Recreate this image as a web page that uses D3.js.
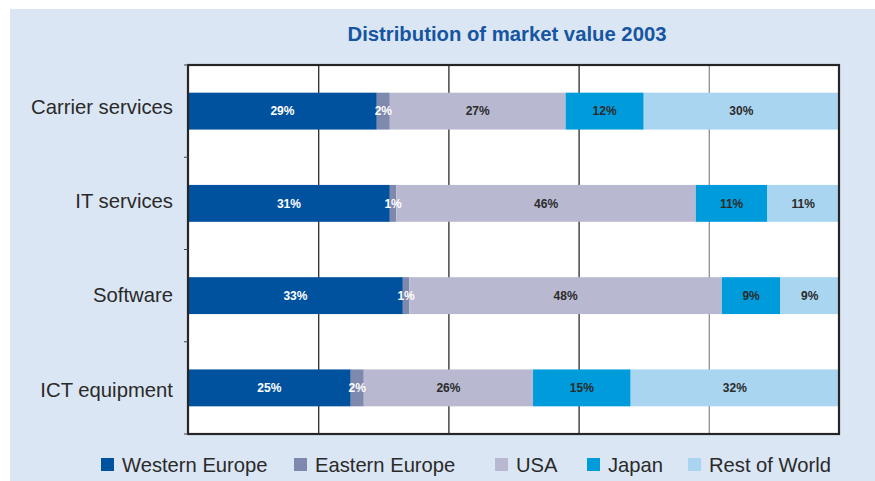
<!DOCTYPE html>
<html>
<head>
<meta charset="utf-8">
<script src="https://cdn.jsdelivr.net/npm/d3@7"></script>
<style>
  html, body { margin: 0; padding: 0; background: #ffffff; }
  svg { display: block; font-family: "Liberation Sans", Arial, Helvetica, sans-serif; }
</style>
</head>
<body>
<svg id="chart" width="875" height="481"></svg>
<script>
// Market value shares (%) by segment and region, 2003
const categories = ["Carrier services", "IT services", "Software", "ICT equipment"];
const regions = ["Western Europe", "Eastern Europe", "USA", "Japan", "Rest of World"];
const westernEurope = [29, 31, 33, 25];
const easternEurope = [2, 1, 1, 2];
const usa = [27, 46, 48, 26];
const japan = [12, 11, 9, 15];
const restOfWorld = [30, 11, 9, 32];
const xTicks = [0, 20, 40, 60, 80, 100];
const title = "Distribution of market value 2003";

const colors = ["#00529f", "#7f89ad", "#b8b9d0", "#009bdb", "#aad5f0"];
const labelColors = ["#ffffff", "#ffffff", "#2b2b2b", "#2b2b2b", "#2b2b2b"];

const table = categories.map((c, i) => ({
  category: c,
  "Western Europe": westernEurope[i],
  "Eastern Europe": easternEurope[i],
  "USA": usa[i],
  "Japan": japan[i],
  "Rest of World": restOfWorld[i]
}));

const svg = d3.select("#chart");
const W = 875, H = 481;
const plot = { left: 188, right: 839, top: 65, bottom: 434 };

// panel background
svg.append("rect").attr("x", 10).attr("y", 9).attr("width", W - 10).attr("height", H - 9)
  .attr("fill", "#dbe6f4");

svg.append("text")
  .attr("x", 507).attr("y", 40.5)
  .attr("text-anchor", "middle")
  .attr("font-size", 20.3).attr("font-weight", "bold")
  .attr("fill", "#1555a2")
  .text(title);

const x = d3.scaleLinear().domain([0, 100]).range([plot.left, plot.right]);
const y = d3.scaleBand().domain(categories).range([plot.top, plot.bottom])
  .paddingInner(0.6).paddingOuter(0.3);
// category labels sit on a slightly taller band than the bars
const yLabel = d3.scaleBand().domain(categories).range([60, 437.5]);

// plot area
svg.append("rect")
  .attr("x", plot.left).attr("y", plot.top)
  .attr("width", plot.right - plot.left).attr("height", plot.bottom - plot.top)
  .attr("fill", "#ffffff");

// vertical gridlines
const grid = svg.append("g")
  .attr("transform", `translate(0,${plot.bottom})`)
  .call(d3.axisBottom(x).tickValues(xTicks.slice(1, -1)).tickSize(plot.bottom - plot.top).tickFormat(""))
  .call(g => g.select(".domain").remove());
grid.selectAll(".tick line")
  .attr("transform", `translate(0,${-(plot.bottom - plot.top)})`)
  .attr("stroke", d => d === 80 ? "#8f8f8f" : "#2a2a2a")
  .attr("stroke-width", 1.3);

// stacked bars
const stack = d3.stack().keys(regions)(table);
const layers = svg.append("g").selectAll("g")
  .data(stack).join("g")
  .attr("fill", (d, i) => colors[i]);

layers.selectAll("rect")
  .data(d => d).join("rect")
  .attr("x", d => x(d[0]))
  .attr("y", d => y(d.data.category))
  .attr("width", d => x(d[1]) - x(d[0]))
  .attr("height", y.bandwidth());

const labels = svg.append("g").selectAll("g")
  .data(stack).join("g")
  .attr("fill", (d, i) => labelColors[i]);

labels.selectAll("text")
  .data(d => d).join("text")
  .attr("x", d => (x(d[0]) + x(d[1])) / 2)
  .attr("y", d => y(d.data.category) + y.bandwidth() / 2)
  .attr("dy", "0.36em")
  .attr("text-anchor", "middle")
  .attr("font-size", 12).attr("font-weight", "bold")
  .text(d => `${d[1] - d[0]}%`);

// frame
svg.append("rect")
  .attr("x", plot.left).attr("y", plot.top)
  .attr("width", plot.right - plot.left).attr("height", plot.bottom - plot.top)
  .attr("fill", "none").attr("stroke", "#262626").attr("stroke-width", 2.2);

// category axis
const yAxis = svg.append("g")
  .attr("transform", `translate(${plot.left},0)`)
  .call(d3.axisLeft(yLabel).tickSize(0).tickPadding(15))
  .call(g => g.select(".domain").remove());
yAxis.selectAll("text")
  .attr("font-size", 20.3).attr("fill", "#2a2a2a")
  .attr("font-family", "'Liberation Sans', Arial, sans-serif");

// boundary ticks between categories
const bounds = d3.range(categories.length + 1).map(i => plot.top + i * (plot.bottom - plot.top) / categories.length);
svg.append("g").selectAll("line")
  .data(bounds).join("line")
  .attr("x1", plot.left - 4).attr("x2", plot.left)
  .attr("y1", d => d).attr("y2", d => d)
  .attr("stroke", "#444").attr("stroke-width", 1);

// legend
const legendX = [101, 294, 495, 587, 688];
const legend = svg.append("g").selectAll("g")
  .data(regions).join("g")
  .attr("transform", (d, i) => `translate(${legendX[i]},458)`);
legend.append("rect")
  .attr("width", 13).attr("height", 13)
  .attr("fill", (d, i) => colors[i]);
legend.append("text")
  .attr("x", 21).attr("y", 13.7)
  .attr("font-size", 20.2).attr("fill", "#2a2a2a")
  .text(d => d);
</script>
</body>
</html>
